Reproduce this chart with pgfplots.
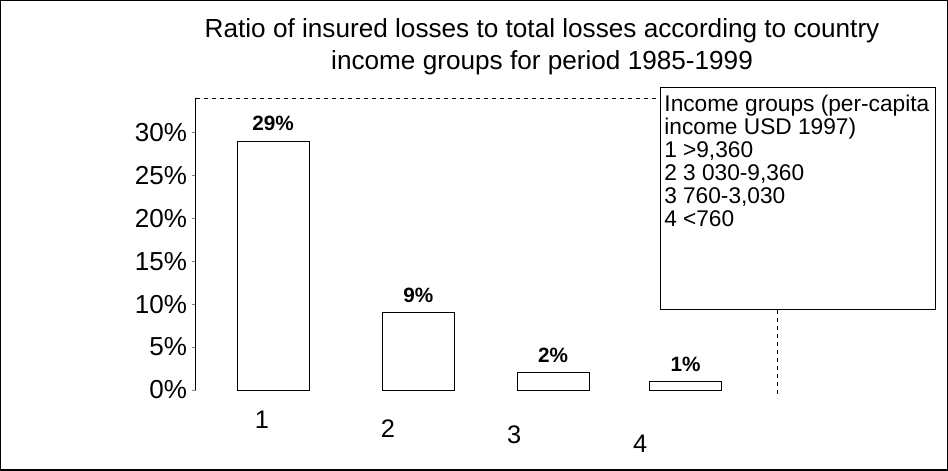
\documentclass[border=0pt]{standalone}
\usepackage{fontspec}
\setmainfont{Liberation Sans}
\usepackage{pgfplots}
\pgfplotsset{compat=1.18}
\begin{document}
\begin{tikzpicture}
\begin{axis}[
  at={(147pt,-292.5pt)}, anchor=south west,
  scale only axis, width=435.75pt, height=218.5pt,
  xmin=0.476, xmax=5.087, ymin=0, ymax=34,
  axis y line*=left, axis x line*=bottom,
  x axis line style={draw=none},
  y axis line style={line width=0.8pt},
  xtick={1,2,3,4},
  xticklabels={1,{\raisebox{-6.75pt}[\height][0pt]{2}},{\raisebox{-11.25pt}[\height][0pt]{3}},{\raisebox{-18pt}[\height][0pt]{4}}},
  xtick style={draw=none},
  xticklabel style={yshift=-9pt, font=\fontsize{19}{21}\selectfont},
  ytick={0,5,10,15,20,25,30},
  yticklabel={\pgfmathprintnumber{\tick}\%},
  yticklabel style={font=\fontsize{19.5}{21}\selectfont},
  /pgf/number format/assume math mode=true,
  tick align=outside, major tick length=3pt,
  ytick style={line width=0.6pt},
  ybar, bar width=0.57,
  nodes near coords={\pgfmathprintnumber{\pgfplotspointmeta}\%},
  every node near coord/.append style={font=\bfseries\fontsize{15.5}{18}\selectfont, yshift=4pt},
  clip=false,
]
\addplot[fill=white, draw=black, line width=0.5pt] coordinates {(1.09,29) (2.24,9) (3.31,2) (4.36,1)};
\draw[dashed, line width=0.7pt] (rel axis cs:0,1) -- (rel axis cs:1,1);
\end{axis}
\begin{scope}[x=0.75pt, y=-0.75pt]
  % outer frame
  \draw[line width=0.8pt] (1,1) rectangle (947,470);
  % title
  \node[align=center, font=\fontsize{19.6}{24}\selectfont] at (542,47)
    {Ratio of insured losses to total losses according to country\\income groups for period 1985-1999};
  % right wall line
  \draw[dashed, line width=0.7pt] (777,310) -- (777,398);
  % legend box
  \draw[line width=0.8pt, fill=white] (660,88) rectangle (935,310);
  \node[anchor=north west, inner sep=0pt, align=left, font=\fontsize{17}{17.25}\selectfont] at (664,95)
    {Income groups (per-capita\\
     income USD 1997)\\
     \makebox[14pt][l]{1}>9,360\\
     \makebox[14pt][l]{2}3 030-9,360\\
     \makebox[14pt][l]{3}760-3,030\\
     \makebox[14pt][l]{4}<760};
\end{scope}
\end{tikzpicture}
\end{document}
